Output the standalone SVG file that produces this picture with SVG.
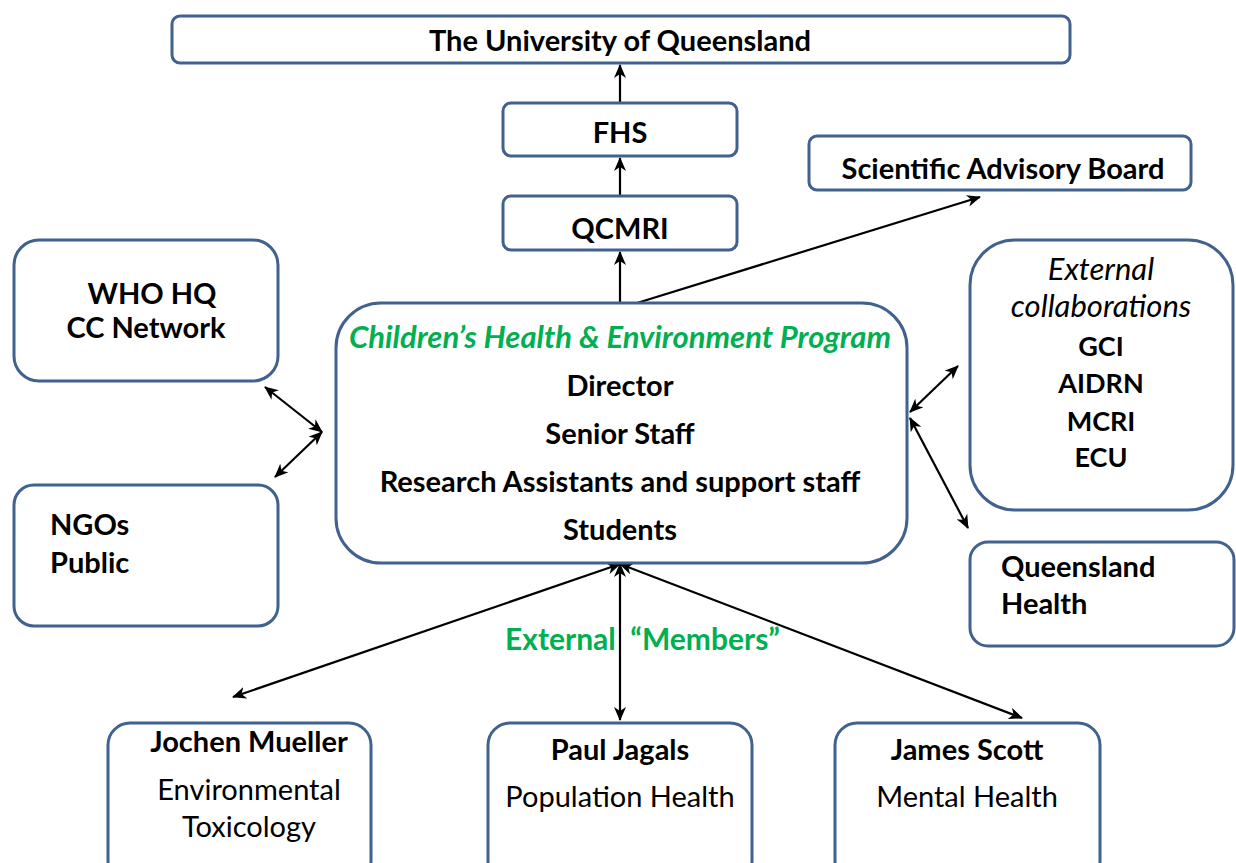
<svg xmlns="http://www.w3.org/2000/svg" width="1236" height="863" viewBox="0 0 1236 863">
<defs>
<marker id="ah" viewBox="0 0 14 12" refX="13" refY="6" markerWidth="14" markerHeight="12" markerUnits="userSpaceOnUse" orient="auto-start-reverse">
<path d="M0,0 L14,6 L0,12 L4,6 Z" fill="#000"/>
</marker>
<style>
.box{fill:#fff;stroke:#41618f;stroke-width:3}
.t{font-family:Lato,"Liberation Sans",sans-serif;font-size:29px;fill:#000;white-space:pre}
.b{font-weight:bold}
.c{text-anchor:middle}
.g{fill:#00b050}
.i{font-style:italic}
.m{font-size:27px}
.con{stroke:#000;stroke-width:2.2;fill:none}
.s{marker-end:url(#ah)}
.d{marker-start:url(#ah);marker-end:url(#ah)}
</style>
</defs>
<rect width="1236" height="863" fill="#fff"/>
<g id="connectors">
<line class="con s" x1="620" y1="196" x2="620" y2="158"/>
<line class="con s" x1="620" y1="103" x2="620" y2="65"/>
<line class="con s" x1="620" y1="303" x2="620" y2="252"/>
<line class="con s" x1="637" y1="303" x2="980" y2="197"/>
<line class="con d" x1="265" y1="387" x2="322" y2="432"/>
<line class="con d" x1="322" y1="432" x2="275" y2="477"/>
<line class="con d" x1="910" y1="412" x2="958" y2="366"/>
<line class="con d" x1="910" y1="418" x2="968" y2="528"/>
<line class="con d" x1="620" y1="564" x2="233" y2="697"/>
<line class="con d" x1="620" y1="564" x2="620" y2="720"/>
<line class="con d" x1="620" y1="564" x2="1022" y2="718"/>
</g>
<g id="uq">
<rect class="box" x="172" y="16" width="898" height="47" rx="8"/>
<text class="t b c" x="620" y="51">The University of Queensland</text>
</g>
<g id="fhs">
<rect class="box" x="503" y="103" width="234" height="53" rx="8"/>
<text class="t b c" x="620" y="143">FHS</text>
</g>
<g id="qcmri">
<rect class="box" x="503" y="196" width="234" height="54" rx="8"/>
<text class="t b c" x="620" y="239">QCMRI</text>
</g>
<g id="sab">
<rect class="box" x="809" y="136" width="382" height="54" rx="8"/>
<text class="t b c" x="1003" y="179">Scientific Advisory Board</text>
</g>
<g id="who">
<rect class="box" x="14" y="240" width="264" height="141" rx="25"/>
<text class="t b c" x="152" y="304">WHO HQ</text>
<text class="t b c" x="146" y="338">CC Network</text>
</g>
<g id="ngos">
<rect class="box" x="14" y="485" width="264" height="141" rx="20"/>
<text class="t b" x="50" y="535">NGOs</text>
<text class="t b" x="50" y="573">Public</text>
</g>
<g id="chep">
<rect class="box" x="336" y="303" width="571" height="260" rx="45"/>
<text class="t b i c g" x="620" y="348" style="font-size:31px">Children’s Health &amp; Environment Program</text>
<text class="t b c" x="620" y="396">Director</text>
<text class="t b c" x="620" y="444">Senior Staff</text>
<text class="t b c" x="620" y="492">Research Assistants and support staff</text>
<text class="t b c" x="620" y="540">Students</text>
</g>
<g id="extcollab">
<rect class="box" x="970" y="240" width="263" height="270" rx="45"/>
<text class="t i c" x="1101" y="280" style="font-size:31px">External</text>
<text class="t i c" x="1101" y="317" style="font-size:31px">collaborations</text>
<text class="t b c m" x="1101" y="356">GCI</text>
<text class="t b c m" x="1101" y="393">AIDRN</text>
<text class="t b c m" x="1101" y="431">MCRI</text>
<text class="t b c m" x="1101" y="467">ECU</text>
</g>
<g id="qhealth">
<rect class="box" x="970" y="542" width="264" height="104" rx="18"/>
<text class="t b" x="1001" y="577">Queensland</text>
<text class="t b" x="1001" y="614">Health</text>
</g>
<text class="t b g" x="505" y="650" style="font-size:30px">External  “Members”</text>
<g id="mueller">
<rect class="box" x="108" y="723" width="263" height="160" rx="22"/>
<text class="t b c" x="249" y="752">Jochen Mueller</text>
<text class="t c" x="249" y="800">Environmental</text>
<text class="t c" x="249" y="837">Toxicology</text>
</g>
<g id="jagals">
<rect class="box" x="488" y="723" width="264" height="160" rx="22"/>
<text class="t b c" x="620" y="760">Paul Jagals</text>
<text class="t c" x="620" y="807">Population Health</text>
</g>
<g id="scott">
<rect class="box" x="835" y="723" width="265" height="160" rx="22"/>
<text class="t b c" x="967" y="760">James Scott</text>
<text class="t c" x="967" y="807">Mental Health</text>
</g>
</svg>
